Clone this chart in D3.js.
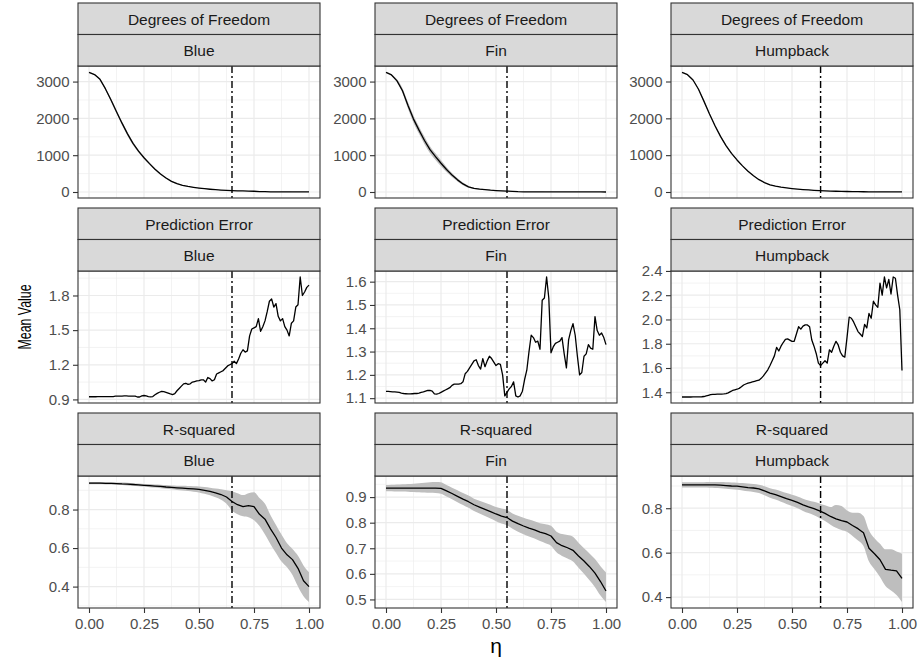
<!DOCTYPE html>
<html>
<head>
<meta charset="utf-8">
<script src="https://cdn.jsdelivr.net/npm/d3@7"></script>
<style>
  body { margin: 0; background: #fff; }
  text { font-family: "Liberation Sans", Arial, sans-serif; }
</style>
</head>
<body>
<script>
// facet labels
const metrics = ["Degrees of Freedom", "Prediction Error", "R-squared"];
const species = ["Blue", "Fin", "Humpback"];
const cutoffs = [0.65, 0.55, 0.63];

// eta grids
const etaCoarse = [0, 0.025, 0.05, 0.075, 0.1, 0.125, 0.15, 0.175, 0.2, 0.225, 0.25, 0.275, 0.3, 0.325, 0.35, 0.375, 0.4, 0.425, 0.45, 0.475, 0.5,
  0.525, 0.55, 0.575, 0.6, 0.625, 0.65, 0.675, 0.7, 0.725, 0.75, 0.775, 0.8, 0.825, 0.85, 0.875, 0.9, 0.925, 0.95, 0.975, 1];
const etaFine = [0, 0.01, 0.02, 0.03, 0.04, 0.05, 0.06, 0.07, 0.08, 0.09, 0.1, 0.11, 0.12, 0.13, 0.14, 0.15, 0.16, 0.17, 0.18, 0.19,
  0.2, 0.21, 0.22, 0.23, 0.24, 0.25, 0.26, 0.27, 0.28, 0.29, 0.3, 0.31, 0.32, 0.33, 0.34, 0.35, 0.36, 0.37, 0.38, 0.39,
  0.4, 0.41, 0.42, 0.43, 0.44, 0.45, 0.46, 0.47, 0.48, 0.49, 0.5, 0.51, 0.52, 0.53, 0.54, 0.55, 0.56, 0.57, 0.58, 0.59,
  0.6, 0.61, 0.62, 0.63, 0.64, 0.65, 0.66, 0.67, 0.68, 0.69, 0.7, 0.71, 0.72, 0.73, 0.74, 0.75, 0.76, 0.77, 0.78, 0.79,
  0.8, 0.81, 0.82, 0.83, 0.84, 0.85, 0.86, 0.87, 0.88, 0.89, 0.9, 0.91, 0.92, 0.93, 0.94, 0.95, 0.96, 0.97, 0.98, 0.99, 1];

// degrees of freedom
const dofBlue = [3250, 3190, 3060, 2800, 2500, 2180, 1870, 1580, 1320, 1110, 930, 770, 620, 490, 380, 290, 225, 182, 150, 128, 108,
  90, 75, 62, 52, 44, 38, 33, 28, 24, 20, 10, 8, 6, 5, 4, 3, 2, 2, 1, 1];
const dofBlueLo = [3240, 3175, 3035, 2765, 2455, 2130, 1820, 1530, 1275, 1070, 895, 740, 595, 470, 362, 275, 213, 172, 142, 121, 102,
  85, 70, 58, 48, 41, 35, 30, 26, 22, 18, 8, 6, 5, 4, 3, 2, 1, 1, 0, 0];
const dofBlueHi = [3260, 3205, 3085, 2835, 2545, 2230, 1920, 1630, 1365, 1150, 965, 800, 645, 510, 398, 305, 237, 192, 158, 135, 114,
  95, 80, 66, 56, 47, 41, 36, 30, 26, 22, 12, 10, 7, 6, 5, 4, 3, 3, 2, 2];
const dofFin = [3250, 3180, 3020, 2750, 2350, 1980, 1680, 1400, 1150, 960, 780, 610, 460, 330, 220, 140, 100, 80, 65, 50, 40,
  32, 25, 18, 8, 5, 4, 3, 3, 2, 2, 2, 1, 1, 1, 1, 1, 1, 1, 1, 0];
const dofFinLo = [3240, 3160, 2980, 2680, 2260, 1880, 1580, 1300, 1055, 870, 700, 540, 405, 285, 185, 115, 82, 66, 54, 41, 33,
  26, 20, 14, 5, 3, 2, 2, 2, 1, 1, 1, 0, 0, 0, 0, 0, 0, 0, 0, 0];
const dofFinHi = [3260, 3200, 3060, 2820, 2440, 2080, 1780, 1500, 1245, 1050, 860, 680, 515, 375, 255, 165, 118, 94, 76, 59, 47,
  38, 30, 22, 11, 7, 6, 4, 4, 3, 3, 3, 2, 2, 2, 2, 2, 2, 2, 2, 1];
const dofHump = [3250, 3185, 3040, 2790, 2460, 2120, 1800, 1510, 1260, 1050, 870, 710, 565, 440, 335, 255, 195, 158, 130, 110, 93,
  78, 66, 55, 46, 38, 31, 26, 21, 17, 14, 11, 9, 7, 6, 5, 4, 3, 2, 2, 1];
const dofHumpLo = [3242, 3173, 3022, 2765, 2430, 2088, 1768, 1480, 1232, 1025, 848, 691, 549, 427, 324, 246, 188, 152, 125, 106, 89,
  75, 63, 52, 44, 36, 29, 24, 20, 16, 13, 10, 8, 6, 5, 4, 3, 2, 1, 1, 0];
const dofHumpHi = [3258, 3197, 3058, 2815, 2490, 2152, 1832, 1540, 1288, 1075, 892, 729, 581, 453, 346, 264, 202, 164, 135, 114, 97,
  81, 69, 58, 48, 40, 33, 28, 22, 18, 15, 12, 10, 8, 7, 6, 5, 4, 3, 3, 2];

// prediction error
const peBlue = [0.923, 0.923, 0.923, 0.923, 0.924, 0.924, 0.924, 0.925, 0.925, 0.925, 0.925, 0.925,
  0.928, 0.929, 0.929, 0.929, 0.930, 0.930, 0.929, 0.929, 0.928, 0.928,
  0.921, 0.921, 0.930, 0.934, 0.930, 0.924, 0.922, 0.925,
  0.940, 0.952, 0.962, 0.970, 0.968, 0.962, 0.955, 0.948, 0.942, 0.950,
  0.975, 0.995, 1.015, 1.035, 1.040, 1.030, 1.035, 1.050, 1.055, 1.060,
  1.062, 1.070, 1.070, 1.050, 1.090, 1.080, 1.060, 1.070, 1.120, 1.130,
  1.140, 1.150, 1.170, 1.190, 1.200, 1.210, 1.230, 1.210, 1.250, 1.300,
  1.330, 1.310, 1.320, 1.450, 1.510, 1.520, 1.530, 1.600, 1.490, 1.530,
  1.580, 1.660, 1.750, 1.770, 1.700, 1.730, 1.620, 1.580, 1.600, 1.530,
  1.500, 1.450, 1.560, 1.580, 1.700, 1.720, 1.960, 1.800, 1.830, 1.870, 1.890];
const peFin = [1.129, 1.129, 1.128, 1.127, 1.127, 1.126, 1.125, 1.122, 1.120, 1.119,
  1.118, 1.118, 1.119, 1.120, 1.120, 1.122, 1.125, 1.127, 1.130, 1.133,
  1.133, 1.130, 1.118, 1.117, 1.120, 1.125, 1.130, 1.135, 1.140, 1.145,
  1.155, 1.160, 1.160, 1.160, 1.162, 1.170, 1.205, 1.215, 1.230, 1.245,
  1.260, 1.265, 1.240, 1.225, 1.270, 1.235, 1.260, 1.280, 1.270, 1.255,
  1.240, 1.248, 1.245, 1.200, 1.110, 1.125, 1.140, 1.150, 1.170, 1.110,
  1.105, 1.110, 1.130, 1.180, 1.220, 1.300, 1.370, 1.360, 1.340, 1.345,
  1.310, 1.520, 1.530, 1.620, 1.530, 1.295, 1.320, 1.335, 1.340, 1.345,
  1.360, 1.290, 1.230, 1.350, 1.390, 1.420, 1.370, 1.280, 1.200, 1.210,
  1.280, 1.290, 1.330, 1.315, 1.310, 1.450, 1.390, 1.370, 1.380, 1.360, 1.330];
const peHump = [1.361, 1.361, 1.361, 1.361, 1.361, 1.362, 1.362, 1.362, 1.362, 1.363,
  1.365, 1.370, 1.375, 1.380, 1.382, 1.383, 1.384, 1.385, 1.385, 1.386,
  1.388, 1.395, 1.405, 1.415, 1.420, 1.425, 1.432, 1.445, 1.460, 1.468,
  1.475, 1.480, 1.485, 1.490, 1.495, 1.500, 1.515, 1.535, 1.560, 1.585,
  1.620, 1.660, 1.700, 1.770, 1.740, 1.780, 1.810, 1.835, 1.840, 1.830,
  1.820, 1.820, 1.880, 1.940, 1.920, 1.945, 1.955, 1.955, 1.940, 1.830,
  1.780, 1.720, 1.640, 1.620, 1.640, 1.660, 1.640, 1.750, 1.730, 1.780,
  1.820, 1.790, 1.730, 1.700, 1.690, 1.850, 2.020, 2.010, 1.980, 1.940,
  1.900, 1.880, 1.860, 1.960, 1.930, 2.050, 2.010, 2.150, 2.120, 2.100,
  2.300, 2.200, 2.350, 2.260, 2.330, 2.210, 2.350, 2.340, 2.200, 2.080, 1.580];

// r-squared
const r2Blue = [0.937, 0.937, 0.937, 0.936, 0.936, 0.935, 0.933, 0.932, 0.930, 0.928, 0.926, 0.924, 0.922, 0.920, 0.917, 0.915,
  0.913, 0.911, 0.909, 0.907, 0.905, 0.900, 0.894, 0.887, 0.878, 0.865, 0.842, 0.825, 0.815, 0.820, 0.815, 0.775, 0.750,
  0.700, 0.655, 0.600, 0.565, 0.540, 0.495, 0.430, 0.400];
const r2BlueLo = [0.931, 0.931, 0.931, 0.930, 0.930, 0.929, 0.927, 0.925, 0.923, 0.921, 0.919, 0.916, 0.914, 0.911, 0.908, 0.905,
  0.902, 0.899, 0.896, 0.893, 0.889, 0.882, 0.874, 0.864, 0.851, 0.830, 0.795, 0.775, 0.765, 0.760, 0.745, 0.715, 0.670,
  0.620, 0.575, 0.530, 0.500, 0.460, 0.400, 0.350, 0.320];
const r2BlueHi = [0.943, 0.943, 0.943, 0.942, 0.942, 0.941, 0.940, 0.939, 0.937, 0.935, 0.933, 0.932, 0.930, 0.929, 0.927, 0.925,
  0.924, 0.923, 0.922, 0.921, 0.920, 0.917, 0.913, 0.909, 0.905, 0.900, 0.895, 0.885, 0.875, 0.885, 0.890, 0.860, 0.830,
  0.770, 0.720, 0.670, 0.625, 0.595, 0.560, 0.510, 0.475];
const r2Fin = [0.935, 0.935, 0.935, 0.935, 0.935, 0.935, 0.935, 0.935, 0.935, 0.935, 0.934, 0.924, 0.914, 0.903, 0.892, 0.882,
  0.870, 0.861, 0.852, 0.843, 0.834, 0.826, 0.820, 0.806, 0.796, 0.787, 0.779, 0.772, 0.763, 0.757, 0.748, 0.722, 0.710,
  0.702, 0.692, 0.670, 0.650, 0.628, 0.603, 0.570, 0.533];
const r2FinLo = [0.923, 0.923, 0.922, 0.922, 0.921, 0.920, 0.919, 0.918, 0.917, 0.916, 0.913, 0.902, 0.892, 0.880, 0.869, 0.858,
  0.846, 0.836, 0.826, 0.816, 0.806, 0.797, 0.790, 0.776, 0.765, 0.755, 0.746, 0.738, 0.728, 0.720, 0.710, 0.684, 0.670,
  0.660, 0.648, 0.624, 0.600, 0.575, 0.548, 0.515, 0.490];
const r2FinHi = [0.947, 0.948, 0.949, 0.950, 0.951, 0.952, 0.954, 0.956, 0.958, 0.959, 0.958, 0.947, 0.937, 0.927, 0.916, 0.906,
  0.894, 0.886, 0.878, 0.870, 0.861, 0.855, 0.850, 0.836, 0.827, 0.819, 0.812, 0.806, 0.798, 0.794, 0.788, 0.765, 0.756,
  0.752, 0.745, 0.722, 0.700, 0.680, 0.658, 0.630, 0.605];
const r2Hump = [0.905, 0.905, 0.905, 0.905, 0.905, 0.905, 0.905, 0.904, 0.902, 0.900, 0.899, 0.896, 0.893, 0.891, 0.887, 0.878,
  0.868, 0.861, 0.852, 0.843, 0.835, 0.826, 0.815, 0.806, 0.798, 0.788, 0.777, 0.763, 0.752, 0.744, 0.738, 0.722, 0.708,
  0.690, 0.620, 0.595, 0.568, 0.525, 0.521, 0.518, 0.484];
const r2HumpLo = [0.893, 0.893, 0.893, 0.893, 0.893, 0.892, 0.891, 0.890, 0.888, 0.885, 0.883, 0.880, 0.876, 0.873, 0.868, 0.858,
  0.847, 0.839, 0.829, 0.819, 0.810, 0.800, 0.788, 0.778, 0.768, 0.756, 0.742, 0.726, 0.712, 0.702, 0.694, 0.675, 0.655,
  0.630, 0.560, 0.525, 0.490, 0.450, 0.430, 0.410, 0.378];
const r2HumpHi = [0.917, 0.917, 0.917, 0.917, 0.917, 0.918, 0.918, 0.918, 0.917, 0.916, 0.915, 0.913, 0.911, 0.909, 0.906, 0.899,
  0.890, 0.884, 0.876, 0.868, 0.861, 0.853, 0.843, 0.835, 0.829, 0.821, 0.813, 0.805, 0.815, 0.810, 0.790, 0.780, 0.780,
  0.765, 0.700, 0.665, 0.640, 0.615, 0.615, 0.605, 0.595];

// axis breaks
const xTicks = [0, 0.25, 0.5, 0.75, 1];
const dofTicks = [0, 1000, 2000, 3000];
const peBlueTicks = [0.9, 1.2, 1.5, 1.8];
const peFinTicks = [1.1, 1.2, 1.3, 1.4, 1.5, 1.6];
const peHumpTicks = [1.4, 1.6, 1.8, 2.0, 2.2, 2.4];
const r2BlueTicks = [0.4, 0.6, 0.8];
const r2FinTicks = [0.5, 0.6, 0.7, 0.8, 0.9];
const r2HumpTicks = [0.4, 0.6, 0.8];

const panels = [
  { x: etaCoarse, y: dofBlue, lo: dofBlueLo, hi: dofBlueHi, ticks: dofTicks, fmt: "d" },
  { x: etaCoarse, y: dofFin, lo: dofFinLo, hi: dofFinHi, ticks: dofTicks, fmt: "d" },
  { x: etaCoarse, y: dofHump, lo: dofHumpLo, hi: dofHumpHi, ticks: dofTicks, fmt: "d" },
  { x: etaFine, y: peBlue, ticks: peBlueTicks, fmt: ".1f" },
  { x: etaFine, y: peFin, ticks: peFinTicks, fmt: ".1f" },
  { x: etaFine, y: peHump, ticks: peHumpTicks, fmt: ".1f" },
  { x: etaCoarse, y: r2Blue, lo: r2BlueLo, hi: r2BlueHi, ticks: r2BlueTicks, fmt: ".1f" },
  { x: etaCoarse, y: r2Fin, lo: r2FinLo, hi: r2FinHi, ticks: r2FinTicks, fmt: ".1f" },
  { x: etaCoarse, y: r2Hump, lo: r2HumpLo, hi: r2HumpHi, ticks: r2HumpTicks, fmt: ".1f" }
];

const width = 918, height = 660;
const colLeft = [78, 375, 671];
const panelW = 242;
const rowTop = [3, 208, 413];
const stripH = 31.5;
const panelH = 132;
const stripFont = 15.5;
const tickFont = 15;
const gridColor = "#ebebeb";
const borderColor = "#333333";

const svg = d3.select("body").append("svg")
  .attr("width", width)
  .attr("height", height);

panels.forEach((p, i) => {
  const r = Math.floor(i / 3), c = i % 3;
  const left = colLeft[c], top = rowTop[r] + 2 * stripH, bottom = top + panelH;

  const x = d3.scaleLinear().domain([-0.05, 1.05]).range([left, left + panelW]);
  const all = p.y.concat(p.lo || [], p.hi || []);
  const [mn, mx] = d3.extent(all);
  const pad = (mx - mn) * 0.05;
  const y = d3.scaleLinear().domain([mn - pad, mx + pad]).range([bottom, top]);

  const g = svg.append("g");
  g.append("rect").attr("x", left).attr("y", top).attr("width", panelW).attr("height", panelH).attr("fill", "#fff");

  // minor grid
  const step = p.ticks[1] - p.ticks[0];
  const yMinor = [p.ticks[0] - step / 2].concat(p.ticks.map((t) => t + step / 2))
    .filter((t) => t > y.domain()[0] && t < y.domain()[1]);
  const xMinor = [0.125, 0.375, 0.625, 0.875];
  g.selectAll(".ymin").data(yMinor).enter().append("line")
    .attr("x1", left).attr("x2", left + panelW)
    .attr("y1", (d) => y(d)).attr("y2", (d) => y(d))
    .attr("stroke", gridColor).attr("stroke-width", 0.6);
  g.selectAll(".xmin").data(xMinor).enter().append("line")
    .attr("x1", (d) => x(d)).attr("x2", (d) => x(d))
    .attr("y1", top).attr("y2", bottom)
    .attr("stroke", gridColor).attr("stroke-width", 0.6);
  // major grid
  g.selectAll(".ymaj").data(p.ticks).enter().append("line")
    .attr("x1", left).attr("x2", left + panelW)
    .attr("y1", (d) => y(d)).attr("y2", (d) => y(d))
    .attr("stroke", gridColor).attr("stroke-width", 1.2);
  g.selectAll(".xmaj").data(xTicks).enter().append("line")
    .attr("x1", (d) => x(d)).attr("x2", (d) => x(d))
    .attr("y1", top).attr("y2", bottom)
    .attr("stroke", gridColor).attr("stroke-width", 1.2);

  const idx = d3.range(p.x.length);
  if (p.lo) {
    g.append("path")
      .attr("d", d3.area().curve(d3.curveMonotoneX).x((k) => x(p.x[k])).y0((k) => y(p.lo[k])).y1((k) => y(p.hi[k]))(idx))
      .attr("fill", "#bebebe");
  }
  g.append("path")
    .attr("d", d3.line().x((k) => x(p.x[k])).y((k) => y(p.y[k]))(idx))
    .attr("fill", "none")
    .attr("stroke", "#000")
    .attr("stroke-width", 1.3)
    .attr("stroke-linejoin", "round");

  g.append("line")
    .attr("x1", x(cutoffs[c])).attr("x2", x(cutoffs[c]))
    .attr("y1", top).attr("y2", bottom)
    .attr("stroke", "#000").attr("stroke-width", 1.4)
    .attr("stroke-dasharray", "7,3,2,3");

  g.append("rect").attr("x", left).attr("y", top).attr("width", panelW).attr("height", panelH)
    .attr("fill", "none").attr("stroke", borderColor).attr("stroke-width", 1.1);

  // strips
  [metrics[r], species[c]].forEach((label, k) => {
    const sy = rowTop[r] + k * stripH;
    g.append("rect").attr("x", left).attr("y", sy).attr("width", panelW).attr("height", stripH)
      .attr("fill", "#d9d9d9").attr("stroke", borderColor).attr("stroke-width", 1.1);
    g.append("text").attr("x", left + panelW / 2).attr("y", sy + stripH / 2 + 0.5)
      .attr("dy", "0.35em").attr("text-anchor", "middle")
      .attr("font-size", stripFont).attr("fill", "#1a1a1a").text(label);
  });

  // y axis
  const ya = g.append("g").attr("transform", `translate(${left},0)`)
    .call(d3.axisLeft(y).tickValues(p.ticks).tickSize(5).tickPadding(3.5).tickFormat(d3.format(p.fmt)));
  ya.select(".domain").remove();
  ya.selectAll("line").attr("stroke", borderColor).attr("stroke-width", 1.1);
  ya.selectAll("text").attr("fill", "#4d4d4d").attr("font-size", tickFont).attr("font-family", null);

  if (r === 2) {
    const xa = g.append("g").attr("transform", `translate(0,${bottom})`)
      .call(d3.axisBottom(x).tickValues(xTicks).tickSize(5).tickPadding(5).tickFormat(d3.format(".2f")));
    xa.select(".domain").remove();
    xa.selectAll("line").attr("stroke", borderColor).attr("stroke-width", 1.1);
    xa.selectAll("text").attr("fill", "#4d4d4d").attr("font-size", tickFont).attr("font-family", null);
  }
});

svg.append("text")
  .attr("transform", "translate(24,317) rotate(-90)")
  .attr("text-anchor", "middle").attr("dy", "0.35em")
  .attr("font-size", 19).attr("fill", "#000")
  .attr("textLength", 65).attr("lengthAdjust", "spacingAndGlyphs")
  .text("Mean Value");

svg.append("text")
  .attr("x", 496).attr("y", 646)
  .attr("text-anchor", "middle").attr("dy", "0.35em")
  .attr("font-size", 21).attr("fill", "#000")
  .text("η");
</script>
</body>
</html>
